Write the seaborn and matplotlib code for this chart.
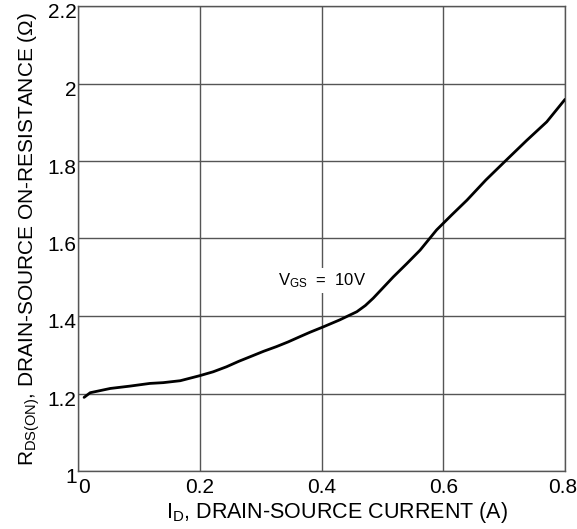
import matplotlib
matplotlib.use("Agg")
import matplotlib.pyplot as plt
import matplotlib.transforms as mtransforms
import seaborn as sns
import pandas as pd

# Data
drain_current = [0.010, 0.020, 0.053, 0.085, 0.118, 0.140, 0.168, 0.200, 0.222,
                 0.244, 0.264, 0.283, 0.305, 0.326, 0.345, 0.365, 0.381, 0.403,
                 0.430, 0.458, 0.472, 0.485, 0.500, 0.518, 0.540, 0.562, 0.589,
                 0.614, 0.639, 0.670, 0.704, 0.737, 0.770, 0.800]
on_resistance = [1.190, 1.202, 1.213, 1.219, 1.226, 1.228, 1.233, 1.246, 1.256,
                 1.269, 1.283, 1.295, 1.309, 1.321, 1.333, 1.347, 1.358, 1.372,
                 1.390, 1.411, 1.427, 1.446, 1.471, 1.501, 1.535, 1.570, 1.622,
                 1.661, 1.699, 1.751, 1.803, 1.853, 1.901, 1.959]
x_ticks = [0, 0.2, 0.4, 0.6, 0.8]
x_tick_labels = ["0", "0.2", "0.4", "0.6", "0.8"]
y_ticks = [1, 1.2, 1.4, 1.6, 1.8, 2, 2.2]
y_tick_labels = ["1", "1.2", "1.4", "1.6", "1.8", "2", "2.2"]

sns.set_theme(style="white")
plt.rcParams["font.family"] = ["Liberation Sans", "DejaVu Sans"]
plt.rcParams["mathtext.fontset"] = "custom"
plt.rcParams["mathtext.rm"] = "Liberation Sans"
plt.rcParams["mathtext.it"] = "Liberation Sans"
plt.rcParams["mathtext.default"] = "regular"

df = pd.DataFrame({"I": drain_current, "R": on_resistance})

fig = plt.figure(figsize=(5.77, 5.29), dpi=100)
ax = fig.add_axes([78 / 577, 1 - 471 / 529, (565 - 78) / 577, (471 - 6) / 529])

sns.lineplot(data=df, x="I", y="R", ax=ax, color="black", linewidth=2.0, zorder=3)

ax.set_xlim(0, 0.8)
ax.set_ylim(1, 2.2)
ax.set_xticks(x_ticks)
ax.set_xticklabels(x_tick_labels)
ax.set_yticks(y_ticks)
ax.set_yticklabels(y_tick_labels)
ax.tick_params(axis="both", length=0, labelsize=15, colors="black")
ax.tick_params(axis="x", pad=5)
ax.tick_params(axis="y", pad=1)

# small offsets of tick labels as in the reference
for lab in ax.get_yticklabels():
    lab.set_transform(lab.get_transform() +
                      mtransforms.ScaledTranslation(0, -5 / 100, fig.dpi_scale_trans))
xl = ax.get_xticklabels()
xl[0].set_transform(xl[0].get_transform() +
                    mtransforms.ScaledTranslation(6 / 100, 0, fig.dpi_scale_trans))
xl[-1].set_transform(xl[-1].get_transform() +
                     mtransforms.ScaledTranslation(-2 / 100, 0, fig.dpi_scale_trans))

ax.grid(True, color="#555555", linewidth=1.0)
for s in ax.spines.values():
    s.set_visible(True)
    s.set_color("#555555")
    s.set_linewidth(1.0)

ax.set_xlabel(r"$I_D$, DRAIN-SOURCE CURRENT (A)", fontsize=15.5, labelpad=2, color="black")
ax.xaxis.label.set_x((337 - 78) / 487)
ax.set_ylabel(r"$R_{DS(ON)}$, DRAIN-SOURCE ON-RESISTANCE ($\Omega$)", fontsize=15,
              labelpad=4, color="black")

ax.text(0.328, 1.48, r"$V_{GS}$  =  10V", fontsize=12, color="black", zorder=4,
        va="baseline", ha="left",
        bbox=dict(facecolor="white", edgecolor="none", pad=2))

fig.savefig("out.png", dpi=100)
